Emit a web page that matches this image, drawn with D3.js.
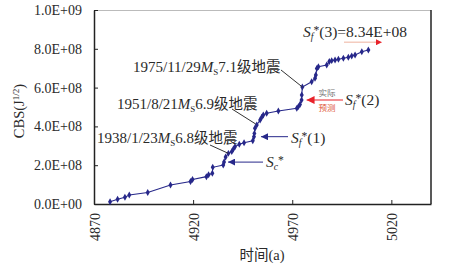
<!DOCTYPE html>
<html><head><meta charset="utf-8">
<script src="https://cdn.jsdelivr.net/npm/d3@7"></script>
<style>
html,body{margin:0;padding:0;background:#fff;}
svg{display:block;}
</style></head>
<body><svg id="c" width="456" height="267"></svg>
<script>
// ---- data ----
const years = [4878.1,4881.9,4885.6,4887.8,4897.1,4908.6,4918.7,4919.7,4926.7,4927.8,4929.7,4929.9,4935.2,4935.6,4936.4,4937.8,4939.5,4940.3,4941.1,4943.3,4945.7,4950.1,4950.7,4950.9,4951.2,4952.1,4953.8,4954.6,4955.4,4957.1,4963.0,4972.3,4973.1,4973.9,4974.7,4974.8,4975.1,4979.8,4981.5,4981.9,4982.4,4983.2,4987.4,4988.7,4989.9,4991.6,4993.3,4995.8,4998.3,5000.0,5001.7,5005.1,5008.4];
const cbs = [0.12,0.24,0.35,0.46,0.59,0.98,1.16,1.26,1.41,1.51,1.58,1.89,2.01,2.16,2.42,2.61,2.70,2.84,2.95,3.08,3.16,3.26,3.47,3.64,3.90,4.07,4.33,4.47,4.59,4.68,4.79,4.93,5.02,5.13,5.36,5.62,6.03,6.30,6.48,6.65,6.99,7.08,7.16,7.34,7.39,7.42,7.46,7.51,7.56,7.63,7.68,7.85,7.94].map(v=>v*1e8);
const xTicks = [4870,4920,4970,5020];
const xTickLabels = ["4870","4920","4970","5020"];
const yTicks = [0,2e8,4e8,6e8,8e8,1e9];
const yTickLabels = ["0.0E+00","2.0E+08","4.0E+08","6.0E+08","8.0E+08","1.0E+09"];
const predicted = 8.34e8;

// ---- layout ----
const SERIF = '"Liberation Serif","Times New Roman",serif';
const CJK = '"Noto Sans CJK SC",sans-serif';
const svg = d3.select("#c");
const X0=94, X1=431, Y0=204, Y1=10;
const x = d3.scaleLinear().domain([4870,5040]).range([X0,X1]);
const y = d3.scaleLinear().domain([0,1e9]).range([Y0,Y1]);
const navy = "#27288a";
const txt = "#2a2a2a";

// frame
svg.append("line").attr("x1",X0).attr("x2",X1).attr("y1",Y1+0.5).attr("y2",Y1+0.5).attr("stroke","#bbb").attr("stroke-width",1);
svg.append("line").attr("x1",X1).attr("x2",X1).attr("y1",Y1).attr("y2",Y0).attr("stroke","#222").attr("stroke-width",1.5);

// axes
const yAxis = d3.axisLeft(y).tickValues(yTicks).tickSizeInner(-4).tickSizeOuter(0).tickPadding(12)
  .tickFormat((d,i)=>yTickLabels[i]);
const gy = svg.append("g").attr("transform",`translate(${X0},0)`).call(yAxis);
gy.select(".domain").attr("stroke","#222").attr("stroke-width",1.5);
gy.selectAll(".tick line").attr("stroke","#222");
gy.selectAll(".tick text").style("font-size","14px").attr("fill",txt);

const xAxis = d3.axisBottom(x).tickValues(xTicks).tickSizeInner(-4).tickSizeOuter(0).tickFormat((d,i)=>xTickLabels[i]);
const gx = svg.append("g").attr("transform",`translate(0,${Y0})`).call(xAxis);
gx.select(".domain").attr("stroke","#222").attr("stroke-width",1.5);
gx.selectAll(".tick line").attr("stroke","#222");
gx.selectAll(".tick text").style("font-size","14px").attr("fill",txt)
  .attr("transform","rotate(-90)").attr("text-anchor","end")
  .attr("x",-9).attr("y",0).attr("dy","0.4em");

// titles
const xt = svg.append("text").attr("x",262).attr("y",260).attr("text-anchor","middle").style("font-size","14.5px").attr("fill",txt);
xt.append("tspan").attr("class","cjk").text("时间");
xt.append("tspan").text("(a)");
const yt = svg.append("text").attr("transform","translate(24,111) rotate(-90)").attr("text-anchor","middle").style("font-size","14.5px").attr("fill",txt);
yt.append("tspan").text("CBS(J");
yt.append("tspan").style("font-size","9px").attr("dy","-5").text("1/2");
yt.append("tspan").attr("dy","5").text(")");

// series
const pts = years.map((d,i)=>[x(d),y(cbs[i])]);
svg.append("path").attr("d",d3.line()(pts)).attr("fill","none").attr("stroke",navy).attr("stroke-width",1.1);
svg.append("g").selectAll("path").data(pts).join("path")
  .attr("transform",d=>`translate(${d[0]},${d[1]})`)
  .attr("d",d3.symbol(d3.symbolDiamond,14)).attr("fill",navy);

// annotations
function quakeLabel(tx,ty,date,mag){
  const t = svg.append("text").attr("x",tx).attr("y",ty).style("font-size","15px").attr("fill",txt);
  t.append("tspan").text(date);
  t.append("tspan").style("font-style","italic").text("M");
  t.append("tspan").style("font-size","9px").attr("dy","3").text("S");
  t.append("tspan").attr("dy","-3").text(mag);
  t.append("tspan").attr("class","cjk").style("font-size","14.5px").text("级地震");
}
function leader(x1,y1,i,dx,dy){
  svg.append("line").attr("x1",x1).attr("y1",y1).attr("x2",pts[i][0]+dx).attr("y2",pts[i][1]+dy).attr("stroke","#333").attr("stroke-width",1);
}
quakeLabel(133,72,"1975/11/29","7.1");
leader(281,70,36,0,0);
quakeLabel(117,109,"1951/8/21","6.9");
leader(232,109,25,-1,-1);
quakeLabel(97,143,"1938/1/23","6.8");
leader(210,145,15,0,0);

// arrows
const defs = svg.append("defs");
function marker(id,color,w,h){
  defs.append("marker").attr("id",id).attr("viewBox","0 0 10 10").attr("refX",10).attr("refY",5)
    .attr("markerWidth",w).attr("markerHeight",h).attr("markerUnits","userSpaceOnUse").attr("orient","auto")
    .append("path").attr("d","M0,0L10,5L0,10Z").attr("fill",color);
}
marker("an",navy,7,7);
marker("ar","#e8222a",8,8);
marker("ar3","#e8222a",7,6);
function arrow(x1,y1,x2,y2,color,id,sw){
  svg.append("line").attr("x1",x1).attr("y1",y1).attr("x2",x2).attr("y2",y2)
    .attr("stroke",color).attr("stroke-width",sw||1).attr("marker-end",`url(#${id})`);
}
function sLabel(tx,ty,sub,rest,fs){
  const t = svg.append("text").attr("x",tx).attr("y",ty).style("font-size",fs+"px").attr("fill",txt);
  t.append("tspan").style("font-style","italic").text("S");
  t.append("tspan").style("font-style","italic").style("font-size",(fs*0.62)+"px").attr("dy","3").text(sub);
  t.append("tspan").style("font-size",(fs*0.75)+"px").attr("dy","-6").text("*");
  t.append("tspan").attr("dy","3").text(rest);
}
// Sc*
const ySc = pts[13][1];
arrow(263,ySc,pts[13][0]+4,ySc,navy,"an");
sLabel(266,167,"c","",15.5);
// Sf*(1)
const yF1 = pts[22][1];
arrow(288,yF1,pts[22][0]+7,yF1,navy,"an");
sLabel(291,143,"f","(1)",15.5);
// Sf*(2)
const yF2 = pts[34][1];
arrow(343,yF2,pts[34][0]+5,yF2,"#e8222a","ar",1.2);
sLabel(345,105,"f","(2)",15.5);
svg.append("text").attr("class","cjk").attr("x",327).attr("y",96).attr("text-anchor","middle").style("font-size","8.5px").attr("fill","#777").text("实际");
svg.append("text").attr("class","cjk").attr("x",327).attr("y",111).attr("text-anchor","middle").style("font-size","8.5px").attr("fill","#e05a3a").text("预测");
// Sf*(3)
const yP = y(predicted);
svg.append("line").attr("x1",344).attr("x2",376).attr("y1",yP).attr("y2",yP).attr("stroke","#f2c4b4").attr("stroke-width",1.3);
arrow(374,yP,382,yP,"#e8222a","ar3",0.1);
sLabel(303,37,"f","(3)=8.34E+08",15.5);

// fonts
svg.selectAll("text, text tspan").style("font-family",SERIF);
svg.selectAll(".cjk").style("font-family",CJK);
</script></body></html>
